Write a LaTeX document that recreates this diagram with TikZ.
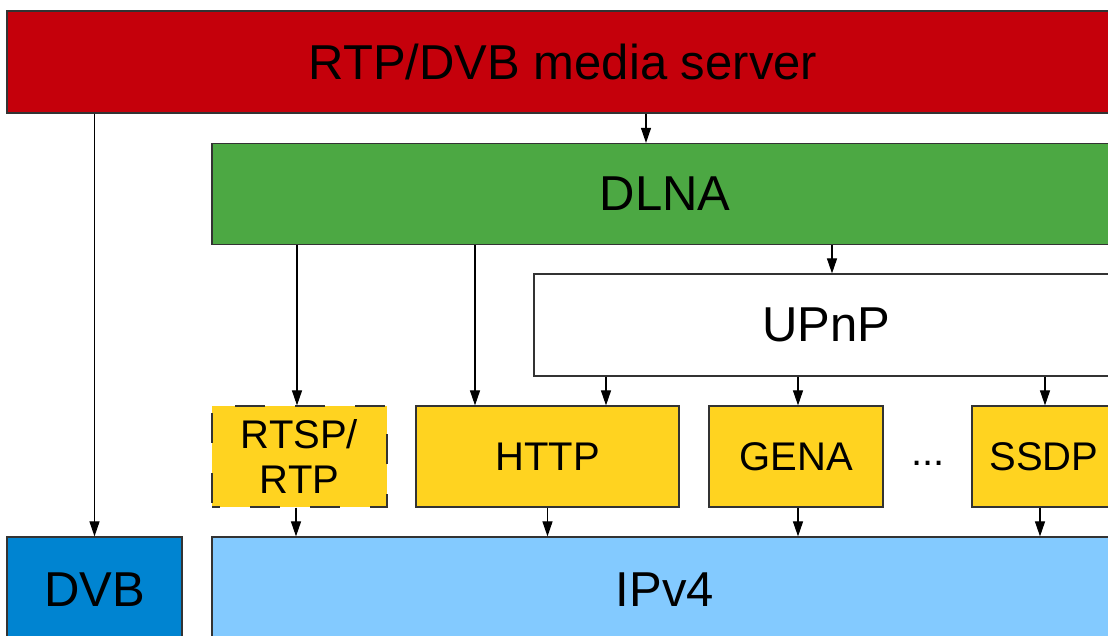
\documentclass[tikz,border=0pt]{standalone}
\usepackage{fontspec}
\setmainfont{Liberation Sans}
\usetikzlibrary{arrows.meta}
\definecolor{srvred}{HTML}{C5000B}
\definecolor{dlnagreen}{HTML}{4CA843}
\definecolor{protoyellow}{HTML}{FFD320}
\definecolor{dvbblue}{HTML}{0084D1}
\definecolor{ipblue}{HTML}{83CAFF}
\definecolor{edge}{HTML}{333333}
\tikzset{
  layer/.style={draw=edge, line width=1.2pt, rectangle, inner sep=0pt,
    font=\fontsize{49}{55}\selectfont},
  proto/.style={layer, fill=protoyellow, minimum width=175pt, minimum height=101pt,
    font=\fontsize{40}{45}\selectfont, align=center},
  arr/.style={draw=black, line width=1.1pt, -{Triangle[length=15pt, width=10pt]}}
}
\begin{document}
\begin{tikzpicture}[x=1pt, y=-1pt]
\useasboundingbox (0,0) rectangle (1108,635);
\begin{scope}
\clip (0,0) rectangle (1108,635);
\fill[white] (0,0) rectangle (1108,635);
% layers
\node[layer, fill=srvred, minimum width=1112pt, minimum height=102pt] (server) at (563,62) {RTP/DVB media server};
\node[layer, fill=dlnagreen, minimum width=906pt, minimum height=101pt] (dlna) at (665,194) {DLNA};
\node[layer, fill=white, minimum width=584pt, minimum height=102pt] (upnp) at (826,325) {UPnP};
% protocols
\node[proto, dash pattern=on 30pt off 30pt, dash phase=22pt] (rtsp) at (299.5,456.5) {RTSP/\\RTP};
\node[proto, minimum width=263pt] (http) at (547.5,456.5) {HTTP};
\node[proto, minimum width=174pt] (gena) at (796,456.5) {GENA};
\node[proto, minimum width=144pt] (ssdp) at (1044,456.5) {SSDP};
\node[font=\fontsize{40}{45}\selectfont, inner sep=0pt] (dots) at (928,463) {...};
% transport layers
\node[layer, fill=dvbblue, minimum width=175pt, minimum height=106pt] (dvb) at (94.5,590) {DVB};
\node[layer, fill=ipblue, minimum width=906pt, minimum height=106pt] (ipv4) at (665,590) {IPv4};
% connectors
\draw[arr] (server.south -| dvb.north) -- (dvb.north);
\draw[arr] (server.south -| 646,0) -- (dlna.north -| 646,0);
\draw[arr] (dlna.south -| 297,0) -- (rtsp.north -| 297,0);
\draw[arr] (dlna.south -| 475,0) -- (http.north -| 475,0);
\draw[arr] (dlna.south -| 832,0) -- (upnp.north -| 832,0);
\draw[arr] (upnp.south -| 606,0) -- (http.north -| 606,0);
\draw[arr] (upnp.south -| 798,0) -- (gena.north -| 798,0);
\draw[arr] (upnp.south -| 1045,0) -- (ssdp.north -| 1045,0);
\draw[arr] (rtsp.south -| 296,0) -- (ipv4.north -| 296,0);
\draw[arr] (http.south) -- (ipv4.north -| http.south);
\draw[arr] (gena.south -| 798,0) -- (ipv4.north -| 798,0);
\draw[arr] (ssdp.south -| 1040,0) -- (ipv4.north -| 1040,0);
\end{scope}
\end{tikzpicture}
\end{document}
